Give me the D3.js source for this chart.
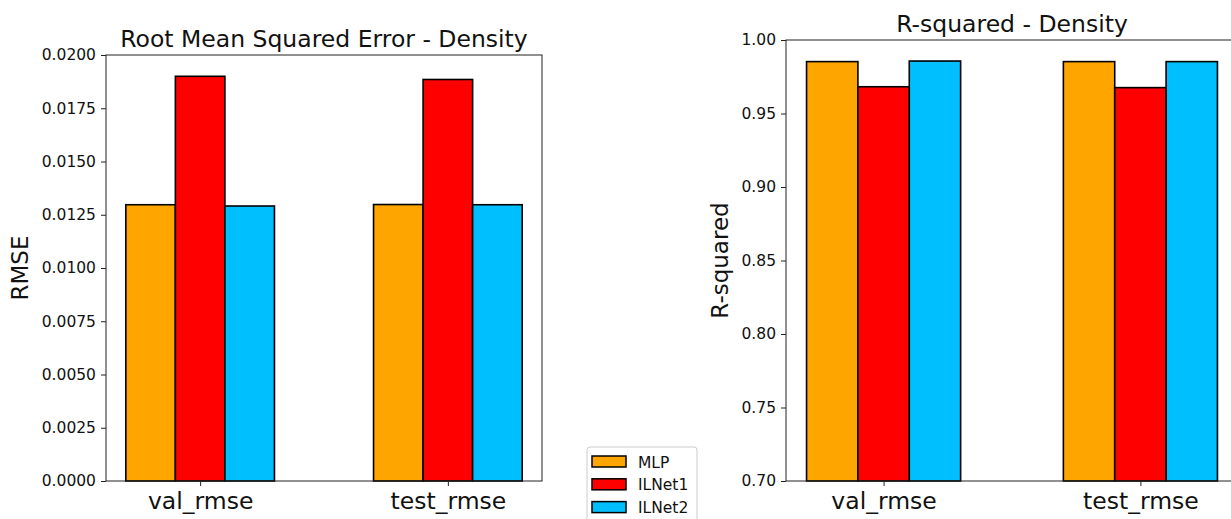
<!DOCTYPE html>
<html>
<head>
<meta charset="utf-8">
<script src="https://cdn.jsdelivr.net/npm/d3@7"></script>
<style>
  body { margin: 0; background: #fff; }
  svg { display: block; font-family: "DejaVu Sans", sans-serif; }
</style>
</head>
<body>
<div class="chart"></div>
<script>
const categories = ['val_rmse', 'test_rmse'];
const models = ['MLP', 'ILNet1', 'ILNet2'];
const colors = ['#FFA500', '#FF0000', '#00BFFF'];

// values per model, one entry per category
const rmseValues = [
  [0.01297, 0.01298],
  [0.01900, 0.01885],
  [0.01291, 0.01297]
];
const r2Values = [
  [0.9853, 0.9853],
  [0.9682, 0.9676],
  [0.9857, 0.9853]
];

const rmseTicks = [0, 0.0025, 0.005, 0.0075, 0.01, 0.0125, 0.015, 0.0175, 0.02];
const r2Ticks = [0.70, 0.75, 0.80, 0.85, 0.90, 0.95, 1.00];

const W = 1231, H = 519;
const barWidth = 0.2;

const svg = d3.select('.chart')
  .append('svg')
  .attr('width', W)
  .attr('height', H);

const drawPanel = (opts) => {
  const { left, right, top, bottom, values, yDomain, ticks, fmt, title, ylabel, ylabelX } = opts;

  const x = d3.scaleLinear().domain([-0.38, 1.38]).range([left, right]);
  const y = d3.scaleLinear().domain(yDomain).range([bottom, top]);

  const g = svg.append('g');

  // bars
  models.forEach((m, i) => {
    g.selectAll('rect.bar-' + i)
      .data(values[i])
      .enter()
      .append('rect')
      .attr('class', 'bar-' + i)
      .attr('x', (d, j) => x(j + (i - 1) * barWidth - barWidth / 2))
      .attr('width', x(barWidth) - x(0))
      .attr('y', d => y(d))
      .attr('height', d => y(yDomain[0]) - y(d))
      .attr('fill', colors[i])
      .attr('stroke', '#000')
      .attr('stroke-width', 1.6);
  });

  // frame
  g.append('rect')
    .attr('x', left)
    .attr('y', top)
    .attr('width', right - left)
    .attr('height', bottom - top)
    .attr('fill', 'none')
    .attr('stroke', '#222')
    .attr('stroke-width', 1);

  const yAxis = g.append('g')
    .attr('transform', `translate(${left},0)`)
    .call(d3.axisLeft(y).tickValues(ticks).tickFormat(d3.format(fmt)).tickSize(5).tickPadding(5).tickSizeOuter(0));
  yAxis.select('.domain').remove();
  yAxis.selectAll('text').attr('font-size', 15.5).attr('fill', '#111').attr('font-family', '"DejaVu Sans", sans-serif');
  yAxis.selectAll('line').attr('stroke', '#222');

  const xAxis = g.append('g')
    .attr('transform', `translate(0,${bottom})`)
    .call(d3.axisBottom(x).tickValues([0, 1]).tickFormat((d, i) => categories[i]).tickSize(5).tickPadding(6).tickSizeOuter(0));
  xAxis.select('.domain').remove();
  xAxis.selectAll('text').attr('font-size', 23.5).attr('fill', '#111').attr('font-family', '"DejaVu Sans", sans-serif');
  xAxis.selectAll('line').attr('stroke', '#222');

  g.append('text')
    .attr('x', (x(-0.38) + x(1.38)) / 2)
    .attr('y', top - 8)
    .attr('text-anchor', 'middle')
    .attr('font-size', 23.5)
    .attr('fill', '#111')
    .text(title);

  g.append('text')
    .attr('transform', `translate(${ylabelX},${(top + bottom) / 2}) rotate(-90)`)
    .attr('text-anchor', 'middle')
    .attr('font-size', 23)
    .attr('fill', '#111')
    .text(ylabel);
};

drawPanel({
  left: 106, right: 542, top: 55, bottom: 481,
  values: rmseValues, yDomain: [0, 0.02], ticks: rmseTicks, fmt: '.4f',
  title: 'Root Mean Squared Error - Density', ylabel: 'RMSE', ylabelX: 28
});

drawPanel({
  left: 786, right: 1238, top: 40, bottom: 481,
  values: r2Values, yDomain: [0.7, 1.0], ticks: r2Ticks, fmt: '.2f',
  title: 'R-squared - Density', ylabel: 'R-squared', ylabelX: 728
});

// legend
const legend = svg.append('g').attr('transform', 'translate(587,447)');
legend.append('rect')
  .attr('width', 110)
  .attr('height', 90)
  .attr('rx', 3)
  .attr('fill', '#fff')
  .attr('stroke', '#ccc')
  .attr('stroke-width', 1);

models.forEach((m, i) => {
  const row = legend.append('g').attr('transform', `translate(5,${9 + i * 22.8})`);
  row.append('rect')
    .attr('width', 34)
    .attr('height', 11)
    .attr('fill', colors[i])
    .attr('stroke', '#000')
    .attr('stroke-width', 1.5);
  row.append('text')
    .attr('x', 46)
    .attr('y', 11.5)
    .attr('font-size', 15.5)
    .attr('fill', '#111')
    .text(m);
});
</script>
</body>
</html>
